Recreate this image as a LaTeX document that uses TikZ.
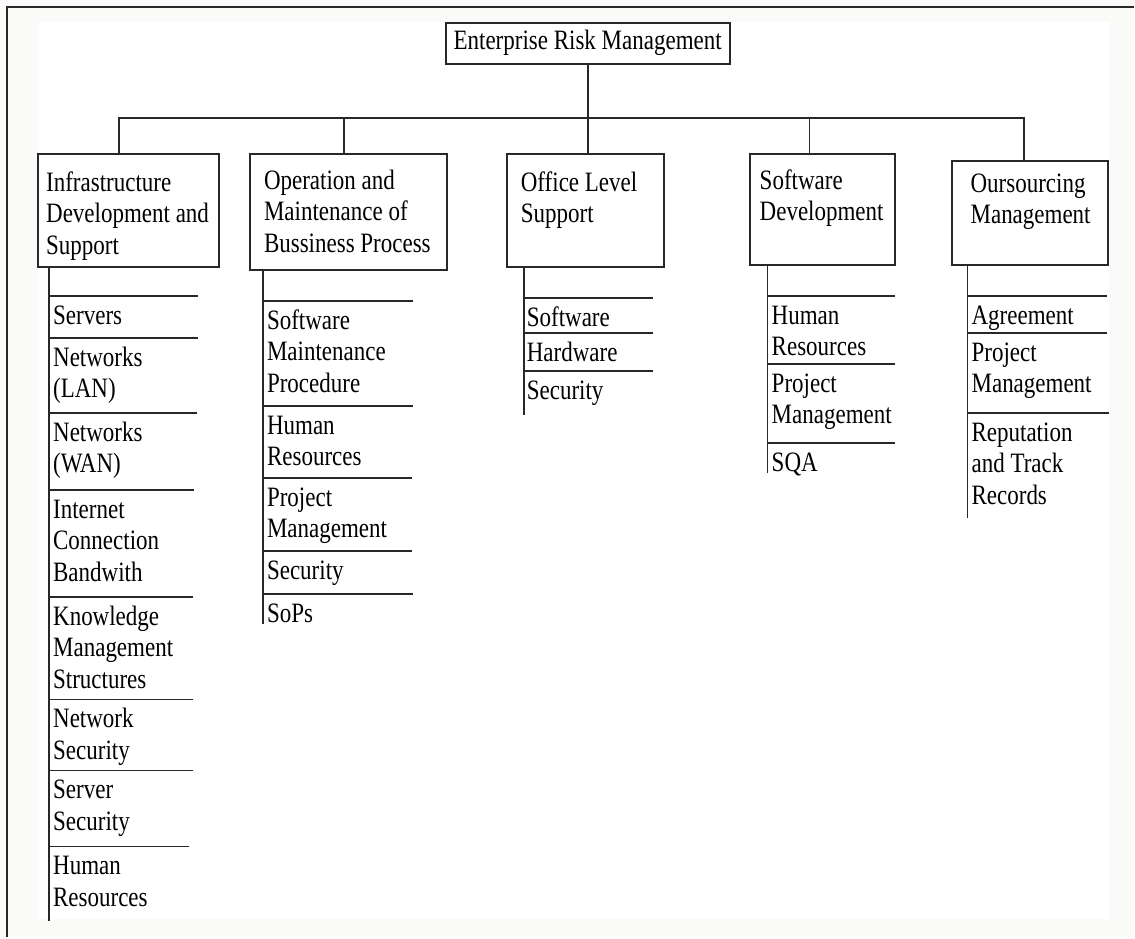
\documentclass[tikz,border=0pt]{standalone}
\usepackage{fontspec}
\setmainfont{Liberation Serif}
\usepackage{graphicx}
\usetikzlibrary{positioning}
\definecolor{pagebg}{RGB}{250,250,249}
\definecolor{inkgray}{RGB}{40,40,40}
\newcommand{\stack}[1]{\scalebox{1}[1.22]{\begin{tabular}[t]{@{}l@{}}#1\end{tabular}}}
\tikzset{
	catbox/.style={draw=inkgray, line width=2pt, fill=white, inner sep=0pt},
	itemtext/.style={anchor=north west, inner sep=0pt, text=black, font=\fontsize{23}{26}\selectfont},
	treeline/.style={draw=inkgray, line width=1.8pt},
}

\begin{document}
\begin{tikzpicture}[x=1pt, y=-1pt]
	\fill[pagebg] (0,0) rectangle (1135,938);
	\fill[white] (38,22) rectangle (1110,920);
	\draw[inkgray, line width=1.4pt] (7,938) -- (7,7) -- (1135,7);
	\useasboundingbox (0,0) rectangle (1135,938);

	\node[catbox, minimum width=284pt, minimum height=41pt, text=black, font=\fontsize{23}{26}\selectfont] (erm) at (588,43.5) {\stack{Enterprise Risk Management}};
	\node[catbox, minimum width=181pt, minimum height=113pt] (infra) at (128.5,210.5) {};
	\node[catbox, minimum width=197pt, minimum height=116pt] (oper) at (348.5,212) {};
	\node[catbox, minimum width=157pt, minimum height=113pt] (office) at (585.5,210.5) {};
	\node[catbox, minimum width=146pt, minimum height=111pt] (soft) at (823,209.5) {};
	\node[catbox, minimum width=156pt, minimum height=104pt] (outs) at (1031,213) {};

	\node[itemtext] (infra-t) at ([shift={(9,16)}]infra.north west) {\stack{Infrastructure\\Development and\\Support}};
	\node[itemtext] (oper-t) at ([shift={(15,14)}]oper.north west) {\stack{Operation and\\Maintenance of\\Bussiness Process}};
	\node[itemtext] (office-t) at ([shift={(15,16)}]office.north west) {\stack{Office Level\\Support}};
	\node[itemtext] (soft-t) at ([shift={(11,14)}]soft.north west) {\stack{Software\\Development}};
	\node[itemtext] (outs-t) at ([shift={(19,10)}]outs.north west) {\stack{Oursourcing\\Management}};

	\coordinate (bus) at (588,118);
	\draw[treeline] (erm.south) -- (erm.south |- office.north);
	\draw[treeline] ([xshift=-9.5pt]infra.north) |- (bus);
	\draw[treeline] ([xshift=-4.5pt]oper.north) |- (bus);
	\draw[treeline] ([xshift=-13pt]soft.north) |- (bus);
	\draw[treeline] ([xshift=-6pt]outs.north) |- (bus);

	\coordinate (infra-end) at (49,922);
	\coordinate (oper-end) at (263,624);
	\coordinate (office-end) at (524,415);
	\coordinate (soft-end) at (768,473);
	\coordinate (outs-end) at (968,518);
	\draw[treeline] (infra.south -| infra-end) -- (infra-end);
	\draw[treeline] (oper.south -| oper-end) -- (oper-end);
	\draw[treeline] (office.south -| office-end) -- (office-end);
	\draw[treeline] (soft.south -| soft-end) -- (soft-end);
	\draw[treeline] (outs.south -| outs-end) -- (outs-end);

	\foreach \y/\r/\txt [count=\i] in {296/198/Servers, 338/198/Networks\\(LAN), 413/197/Networks\\(WAN), 490/194/Internet\\Connection\\Bandwith, 597/193/Knowledge\\Management\\Structures, 700/193/Network\\Security, 771/193/Server\\Security, 847/189/Human\\Resources}{
		\draw[treeline] (49,\y) -- (\r,\y);
		\node[itemtext] (infra-\i) at (53,\y+6) {\stack{\txt}};
	}
	\foreach \y/\r/\txt [count=\i] in {301/413/Software\\Maintenance\\Procedure, 406/413/Human\\Resources, 478/412/Project\\Management, 551/412/Security, 594/413/SoPs}{
		\draw[treeline] (263,\y) -- (\r,\y);
		\node[itemtext] (oper-\i) at (267,\y+6) {\stack{\txt}};
	}
	\foreach \y/\r/\txt [count=\i] in {298/653/Software, 333/653/Hardware, 371/653/Security}{
		\draw[treeline] (524,\y) -- (\r,\y);
		\node[itemtext] (office-\i) at (527,\y+6) {\stack{\txt}};
	}
	\foreach \y/\r/\txt [count=\i] in {296/896/Human\\Resources, 364/896/Project\\Management, 443/896/SQA}{
		\draw[treeline] (768,\y) -- (\r,\y);
		\node[itemtext] (soft-\i) at (772,\y+6) {\stack{\txt}};
	}
	\foreach \y/\r/\txt [count=\i] in {296/1108/Agreement, 333/1108/Project\\Management, 413/1110/Reputation\\and Track\\Records}{
		\draw[treeline] (968,\y) -- (\r,\y);
		\node[itemtext] (outs-\i) at (972,\y+6) {\stack{\txt}};
	}
\end{tikzpicture}
\end{document}
